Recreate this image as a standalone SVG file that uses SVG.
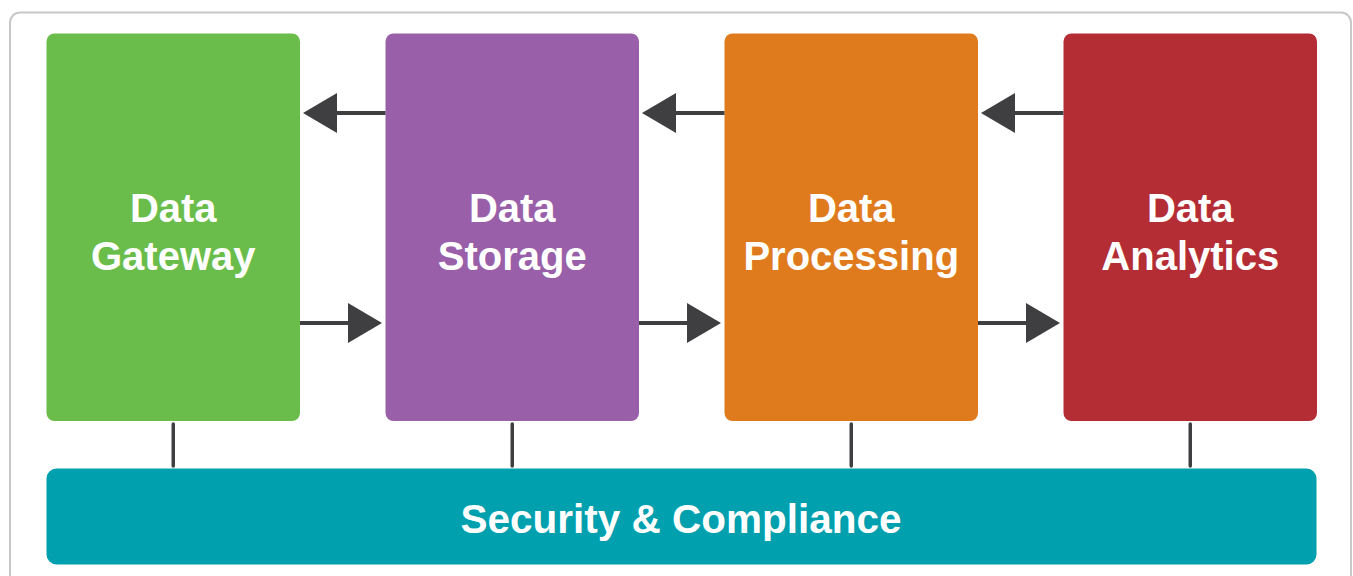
<svg xmlns="http://www.w3.org/2000/svg" width="1353" height="576" viewBox="0 0 1353 576">
  <style>
    .stage-label { font-family: "Liberation Sans", Arial, sans-serif; font-weight: bold; font-size: 40px; fill: #ffffff; text-anchor: middle; }
    .bar-label { font-family: "Liberation Sans", Arial, sans-serif; font-weight: bold; font-size: 40.5px; fill: #ffffff; text-anchor: middle; }
    .flow { stroke: #3f3f42; stroke-width: 4; fill: none; }
    .link { stroke: #3f3f42; stroke-width: 3.5; stroke-linecap: round; fill: none; }
  </style>
  <defs>
    <marker id="head" markerUnits="userSpaceOnUse" markerWidth="34" markerHeight="40" refX="0" refY="20" orient="auto" overflow="visible">
      <path d="M0,0 L34,20 L0,40 Z" fill="#3f3f42"/>
    </marker>
  </defs>

  <!-- outer frame -->
  <rect x="10" y="12.5" width="1341" height="620" rx="10" ry="10" fill="#ffffff" stroke="#c8c8c8" stroke-width="2"/>

  <!-- pipeline stages -->
  <g id="data-gateway">
    <rect x="46.5" y="33.5" width="253.5" height="387.5" rx="8" fill="#6abd4a"/>
    <text class="stage-label" x="173.25" y="221.5">Data</text>
    <text class="stage-label" x="173.25" y="270">Gateway</text>
  </g>
  <g id="data-storage">
    <rect x="385.5" y="33.5" width="253.5" height="387.5" rx="8" fill="#995fa8"/>
    <text class="stage-label" x="512.25" y="221.5">Data</text>
    <text class="stage-label" x="512.25" y="270">Storage</text>
  </g>
  <g id="data-processing">
    <rect x="724.5" y="33.5" width="253.5" height="387.5" rx="8" fill="#e07b1d"/>
    <text class="stage-label" x="851.25" y="221.5">Data</text>
    <text class="stage-label" x="851.25" y="270">Processing</text>
  </g>
  <g id="data-analytics">
    <rect x="1063.5" y="33.5" width="253.5" height="387.5" rx="8" fill="#b42d34"/>
    <text class="stage-label" x="1190.25" y="221.5">Data</text>
    <text class="stage-label" x="1190.25" y="270">Analytics</text>
  </g>

  <!-- cross-cutting layer -->
  <g id="security-compliance">
    <rect x="46.5" y="468.5" width="1270" height="96" rx="10" fill="#00a0ae"/>
    <text class="bar-label" x="681" y="533">Security &amp; Compliance</text>
  </g>

  <!-- connectors -->
  <g id="connectors">
    <!-- forward flow -->
    <line class="flow" x1="300" y1="323" x2="348" y2="323" marker-end="url(#head)"/>
    <line class="flow" x1="639" y1="323" x2="687" y2="323" marker-end="url(#head)"/>
    <line class="flow" x1="978" y1="323" x2="1026" y2="323" marker-end="url(#head)"/>
    <!-- return flow -->
    <line class="flow" x1="385.5" y1="113" x2="337" y2="113" marker-end="url(#head)"/>
    <line class="flow" x1="724.5" y1="113" x2="676" y2="113" marker-end="url(#head)"/>
    <line class="flow" x1="1063.5" y1="113" x2="1015" y2="113" marker-end="url(#head)"/>
    <!-- links to the security layer -->
    <line class="link" x1="173.25" y1="424" x2="173.25" y2="466"/>
    <line class="link" x1="512.25" y1="424" x2="512.25" y2="466"/>
    <line class="link" x1="851.25" y1="424" x2="851.25" y2="466"/>
    <line class="link" x1="1190.25" y1="424" x2="1190.25" y2="466"/>
  </g>
</svg>
